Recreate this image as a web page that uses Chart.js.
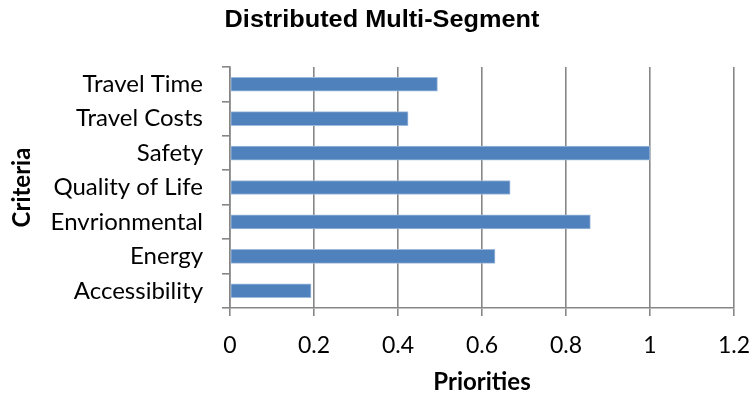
<!DOCTYPE html>
<html>
<head>
<meta charset="utf-8">
<script src="https://cdn.jsdelivr.net/npm/chart.js@4/dist/chart.umd.min.js"></script>
<style>
  html, body { margin: 0; padding: 0; background: #ffffff; }
  canvas { display: block; }
</style>
</head>
<body>
<canvas id="chart" width="754" height="400"></canvas>
<script>
// Criteria, listed top to bottom
const categories = ['Travel Time', 'Travel Costs', 'Safety', 'Quality of Life', 'Envrionmental', 'Energy', 'Accessibility'];
// Priority weight for each criterion
const priorities = [0.494, 0.424, 1.0, 0.667, 0.858, 0.631, 0.193];
// Labels for the priority axis, one per 0.2 step
const xTickLabels = ['0', '0.2', '0.4', '0.6', '0.8', '1', '1.2'];
const chartTitle = 'Distributed Multi-Segment';

const labelFont = "Lato, 'Noto Sans', sans-serif";
const gridColor = '#868686';

// Draws the heading centred over the plot, slightly widened
const headingPlugin = {
  id: 'heading',
  afterDraw(chart) {
    const ctx = chart.ctx;
    ctx.save();
    ctx.font = "bold 23px 'Liberation Sans', Arial, sans-serif";
    ctx.fillStyle = '#000000';
    ctx.textAlign = 'center';
    ctx.textBaseline = 'middle';
    ctx.translate(chart.width / 2 + 5, 21);
    ctx.scale(1.1, 1);
    ctx.fillText(chartTitle, 0, 0);
    ctx.restore();
  }
};

new Chart(document.getElementById('chart'), {
  type: 'bar',
  data: {
    labels: categories,
    datasets: [{
      data: priorities,
      backgroundColor: '#4F81BD',
      borderColor: '#9fbadb',
      borderWidth: 1,
      borderSkipped: false,
      barThickness: 14
    }]
  },
  plugins: [headingPlugin],
  options: {
    indexAxis: 'y',
    responsive: false,
    animation: false,
    devicePixelRatio: 1,
    layout: { padding: { left: 6, right: 20, top: 67, bottom: 0 } },
    plugins: {
      legend: { display: false },
      tooltip: { enabled: false },
      title: { display: false }
    },
    scales: {
      x: {
        min: 0,
        max: 1.2,
        afterFit: (scale) => {
          scale.height = 92;
          scale.paddingLeft = 0;
          scale.paddingRight = 0;
        },
        ticks: {
          stepSize: 0.2,
          color: '#000000',
          padding: 16,
          font: { family: labelFont, size: 23 },
          callback: (value, index) => xTickLabels[index]
        },
        grid: {
          color: gridColor,
          lineWidth: 1.6,
          drawOnChartArea: true,
          tickLength: 8
        },
        border: { color: gridColor, width: 1.6 },
        title: {
          display: true,
          text: 'Priorities',
          color: '#000000',
          font: { family: labelFont, size: 24, weight: 'bold' },
          padding: { top: 0, bottom: 3 }
        }
      },
      y: {
        afterFit: (scale) => { scale.width = 224; },
        ticks: {
          color: '#000000',
          padding: 19,
          font: { family: labelFont, size: 24 }
        },
        grid: {
          color: gridColor,
          lineWidth: 1.6,
          drawOnChartArea: false,
          tickLength: 8,
          offset: true
        },
        border: { color: gridColor, width: 1.6 },
        title: {
          display: true,
          text: 'Criteria',
          color: '#000000',
          font: { family: labelFont, size: 24, weight: 'bold' },
          padding: { top: 2, bottom: 4 }
        }
      }
    }
  }
});
</script>
</body>
</html>
